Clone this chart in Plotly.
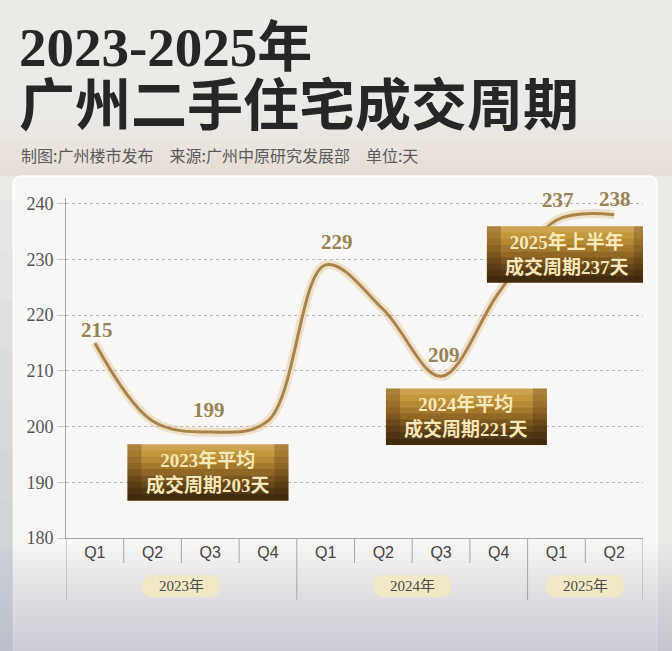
import plotly.graph_objects as go

# data
quarters = ["Q1", "Q2", "Q3", "Q4", "Q1", "Q2", "Q3", "Q4", "Q1", "Q2"]
years = ["2023年"] * 4 + ["2024年"] * 4 + ["2025年"] * 2
days = [215, 201, 199, 201, 229, 221, 209, 224, 237, 238]
labelled = [0, 2, 4, 6, 8, 9]
y_ticks = [180, 190, 200, 210, 220, 230, 240]
notes = ["2023年平均<br>成交周期203天",
         "2024年平均<br>成交周期221天",
         "2025年上半年<br>成交周期237天"]

# layout helpers (pixels of the 672x651 page)
W, H = 672, 651
L, R, T, B = 66, 29, 198, 113
SERIF = "Liberation Serif, Noto Sans CJK SC"
CJK = "Noto Sans CJK SC"


def paper_x(px):
    return (px - L) / (W - L - R)


def paper_y(py):
    return (H - B - py) / (H - T - B)


def pix_path(pts):
    # pts in page pixels -> path relative to paper (0, 0) in pixel mode
    out = ""
    for cmd, coords in pts:
        out += cmd + " " + " ".join(
            "%g,%g" % (x - L, (H - B) - y) for x, y in coords) + " "
    return out + "Z"


def pix_rect(x0, y0, x1, y1, fill, layer="below"):
    return dict(type="path", xref="paper", yref="paper", xsizemode="pixel",
                ysizemode="pixel", xanchor=0, yanchor=0, layer=layer,
                path=pix_path([("M", [(x0, y0)]), ("L", [(x1, y0)]),
                               ("L", [(x1, y1)]), ("L", [(x0, y1)])]),
                fillcolor=fill, line=dict(width=0))


fig = go.Figure()

fig.add_trace(go.Scatter(
    x=list(range(len(days))), y=days, mode="lines",
    line=dict(color="rgba(210,175,105,0.30)", width=9, shape="spline", smoothing=1.0),
    hoverinfo="skip", showlegend=False))
fig.add_trace(go.Scatter(
    x=list(range(len(days))), y=days, mode="lines",
    line=dict(color="#a9844a", width=3, shape="spline", smoothing=1.0),
    hoverinfo="skip", showlegend=False))

shapes = []

# soft warm tone in the header
for k in range(6):
    shapes.append(pix_rect(0, 120 + k * 10, W, 176, "rgba(215,200,185,0.06)"))

# background panel with rounded top corners
r = 9
shapes.append(dict(
    type="path", xref="paper", yref="paper", xsizemode="pixel", ysizemode="pixel",
    xanchor=0, yanchor=0, layer="below",
    path=pix_path([("M", [(13 + r, 176)]), ("L", [(657 - r, 176)]),
                   ("Q", [(657, 176), (657, 176 + r)]), ("L", [(657, 660)]),
                   ("L", [(13, 660)]), ("L", [(13, 176 + r)]),
                   ("Q", [(13, 176), (13 + r, 176)])]),
    fillcolor="rgba(250,248,245,0.95)", line=dict(color="rgba(255,255,255,0.9)", width=1.5)))

# faded city towards the bottom
for k in range(14):
    shapes.append(pix_rect(0, 545 + k * 8, W, H, "rgba(170,172,192,0.045)"))
for k in range(8):
    shapes.append(pix_rect(0, 200 + k * 50, 13, H, "rgba(175,185,200,0.08)"))

# table lines under the x axis
bounds = [-0.5] + [i + 0.5 for i in range(len(quarters))]
for b in bounds:
    i = int(b + 0.5)
    year_edge = i == 0 or i == len(years) or years[i] != years[i - 1]
    shapes.append(dict(type="line", xref="x", yref="paper", x0=b, x1=b,
                       y0=0, y1=paper_y(600 if year_edge else 563),
                       line=dict(color="#a6a6a6", width=1)))

# year pills
annotations = []
pill = "M -28,-11 L 28,-11 Q 39,-11 39,0 Q 39,11 28,11 L -28,11 Q -39,11 -39,0 Q -39,-11 -28,-11 Z"
for yr in dict.fromkeys(years):
    idx = [i for i, v in enumerate(years) if v == yr]
    xc = (idx[0] + idx[-1]) / 2
    shapes.append(dict(type="path", xref="x", yref="paper", xsizemode="pixel",
                       ysizemode="pixel", xanchor=xc, yanchor=paper_y(586), path=pill,
                       fillcolor="#f1e9c6", line=dict(width=0)))
    annotations.append(dict(x=xc, y=paper_y(586), xref="x", yref="paper", text=yr,
                            xanchor="center", yanchor="middle", showarrow=False,
                            font=dict(family=SERIF, size=15, color="#4a4a4a")))

# golden note boxes
note_pos = [(1.96, 191.8), (6.44, 201.8), (8.19, 230.9)]
strips = ["#cda352", "#c4973f", "#b78836", "#a6782d", "#926726",
          "#7c551e", "#664518", "#533812", "#432c0d"]
bw, bh = 161, 56
for (xc, yc), txt in zip(note_pos, notes):
    sh = bh / len(strips)
    for k, col in enumerate(strips):
        shapes.append(dict(type="rect", xref="x", yref="y", xsizemode="pixel",
                           ysizemode="pixel", xanchor=xc, yanchor=yc,
                           x0=-bw / 2, x1=bw / 2, y0=bh / 2 - k * sh, y1=bh / 2 - (k + 1) * sh - 0.5,
                           fillcolor=col, line=dict(width=0)))
    for x0, x1 in [(-bw / 2, -bw / 2 + 14), (bw / 2 - 14, bw / 2)]:
        shapes.append(dict(type="rect", xref="x", yref="y", xsizemode="pixel",
                           ysizemode="pixel", xanchor=xc, yanchor=yc,
                           x0=x0, x1=x1, y0=-bh / 2, y1=bh / 2,
                           fillcolor="rgba(60,35,10,0.25)", line=dict(width=0)))
    annotations.append(dict(x=xc, y=yc, xref="x", yref="y", text="<b>" + txt + "</b>",
                            xanchor="center", yanchor="middle", showarrow=False,
                            align="center", font=dict(family=SERIF, size=19, color="#f8e7b8")))

# value labels
label_shift = [(2, 13), (-1, 22), (11, 23), (3, 21), (2, 20), (1, 16)]
for i, (dx, dy) in zip(labelled, label_shift):
    annotations.append(dict(x=i, y=days[i], xref="x", yref="y", text="<b>%d</b>" % days[i],
                            xanchor="center", yanchor="middle",
                            showarrow=False, xshift=dx, yshift=dy,
                            font=dict(family=SERIF, size=21, color="#968255")))

# titles: both lines in one text block so the line gap stays tight
title_text = ("<span style='font-size:55px'><b>2023-2025年</b></span><br>"
              "<span style='font-size:56px;font-family:Noto Sans CJK SC'>"
              "<b>广州二手住宅成交周期</b></span>")
annotations += [
    dict(x=paper_x(17), y=paper_y(79), xref="paper", yref="paper", xanchor="left",
         yanchor="middle", text=title_text, showarrow=False, align="left",
         font=dict(family=SERIF, size=45, color="#262626")),
    dict(x=paper_x(19), y=paper_y(155), xref="paper", yref="paper", xanchor="left",
         yanchor="middle", text="制图:广州楼市发布　来源:广州中原研究发展部　单位:天",
         showarrow=False, font=dict(family=CJK, size=16, color="#5a5a5a")),
]

fig.update_layout(
    width=W, height=H, margin=dict(l=L, r=R, t=T, b=B),
    paper_bgcolor="#eceae7", plot_bgcolor="rgba(0,0,0,0)",
    shapes=shapes, annotations=annotations, showlegend=False,
    xaxis=dict(range=[-0.5, len(days) - 0.5], tickvals=list(range(len(quarters))),
               ticktext=quarters, showgrid=False, zeroline=False, showline=True,
               linecolor="#a6a6a6", linewidth=1, ticks="",
               tickfont=dict(family="Liberation Sans", size=16, color="#444444")),
    yaxis=dict(range=[180, 241], tickvals=y_ticks, showgrid=True, griddash="dot",
               gridcolor="#b9b9b9", gridwidth=1, zeroline=False, showline=True,
               linecolor="#a6a6a6", linewidth=1, ticks="outside", ticklen=8,
               tickcolor="#c4c4c4",
               tickfont=dict(family="Liberation Serif", size=18, color="#555555")),
)

# drop the default page margin so the figure fills the window
fig.write_html("out.html", config={"displayModeBar": False},
               post_script="document.body.style.margin='0';")
